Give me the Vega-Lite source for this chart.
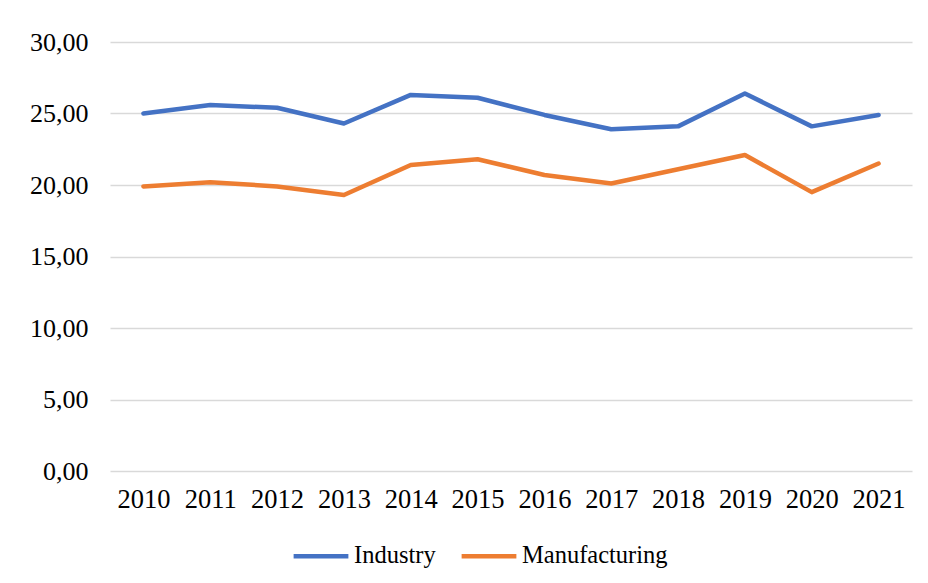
{
  "$schema": "https://vega.github.io/schema/vega-lite/v6.json",
  "width": 802,
  "height": 429,
  "autosize": {"type": "none"},
  "padding": {"left": 110, "top": 42, "right": 16, "bottom": 112},
  "background": "white",
  "data": {
    "values": [
      {"year": "2010", "series": "Industry", "value": 25.0},
      {"year": "2011", "series": "Industry", "value": 25.6},
      {"year": "2012", "series": "Industry", "value": 25.4},
      {"year": "2013", "series": "Industry", "value": 24.3},
      {"year": "2014", "series": "Industry", "value": 26.3},
      {"year": "2015", "series": "Industry", "value": 26.1},
      {"year": "2016", "series": "Industry", "value": 24.9},
      {"year": "2017", "series": "Industry", "value": 23.9},
      {"year": "2018", "series": "Industry", "value": 24.1},
      {"year": "2019", "series": "Industry", "value": 26.4},
      {"year": "2020", "series": "Industry", "value": 24.1},
      {"year": "2021", "series": "Industry", "value": 24.9},
      {"year": "2010", "series": "Manufacturing", "value": 19.9},
      {"year": "2011", "series": "Manufacturing", "value": 20.2},
      {"year": "2012", "series": "Manufacturing", "value": 19.9},
      {"year": "2013", "series": "Manufacturing", "value": 19.3},
      {"year": "2014", "series": "Manufacturing", "value": 21.4},
      {"year": "2015", "series": "Manufacturing", "value": 21.8},
      {"year": "2016", "series": "Manufacturing", "value": 20.7},
      {"year": "2017", "series": "Manufacturing", "value": 20.1},
      {"year": "2018", "series": "Manufacturing", "value": 21.1},
      {"year": "2019", "series": "Manufacturing", "value": 22.1},
      {"year": "2020", "series": "Manufacturing", "value": 19.5},
      {"year": "2021", "series": "Manufacturing", "value": 21.5}
    ]
  },
  "mark": {"type": "line", "strokeWidth": 4.5, "strokeCap": "round", "strokeJoin": "round"},
  "encoding": {
    "x": {
      "field": "year",
      "type": "ordinal",
      "scale": {"type": "point", "padding": 0.5},
      "axis": {
        "title": null,
        "labelAngle": 0,
        "ticks": false,
        "domain": false,
        "grid": false,
        "labelFont": "Liberation Serif",
        "labelFontSize": 26.5,
        "labelColor": "#000000",
        "labelPadding": 15
      }
    },
    "y": {
      "field": "value",
      "type": "quantitative",
      "scale": {"domain": [0, 30], "nice": false, "zero": true},
      "axis": {
        "title": null,
        "values": [0, 5, 10, 15, 20, 25, 30],
        "labelExpr": "replace(format(datum.value, '.2f'), '.', ',')",
        "ticks": false,
        "domain": false,
        "grid": true,
        "gridColor": "#d9d9d9",
        "gridWidth": 1.5,
        "labelFont": "Liberation Serif",
        "labelFontSize": 26,
        "labelColor": "#000000",
        "labelPadding": 22
      }
    },
    "color": {
      "field": "series",
      "type": "nominal",
      "scale": {"domain": ["Industry", "Manufacturing"], "range": ["#4472C4", "#ED7D31"]},
      "legend": {
        "title": null,
        "orient": "none",
        "legendX": 181,
        "legendY": 484,
        "direction": "horizontal",
        "symbolType": "stroke",
        "symbolSize": 3000,
        "symbolStrokeWidth": 4.5,
        "labelFont": "Liberation Serif",
        "labelFontSize": 24.5,
        "labelColor": "#000000",
        "labelOffset": 3,
        "columnPadding": 16
      }
    }
  },
  "config": {"view": {"stroke": null}}
}
